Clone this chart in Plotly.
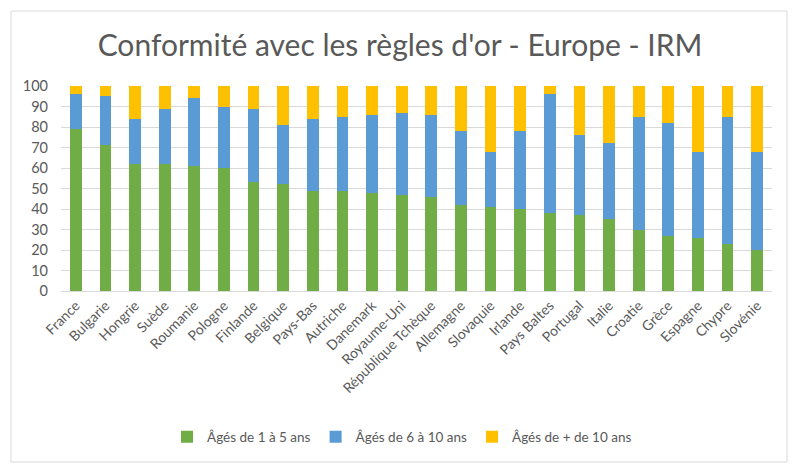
import plotly.graph_objects as go

countries = ["France", "Bulgarie", "Hongrie", "Suède", "Roumanie", "Pologne", "Finlande",
             "Belgique", "Pays-Bas", "Autriche", "Danemark", "Royaume-Uni",
             "République Tchèque", "Allemagne", "Slovaquie", "Irlande", "Pays Baltes",
             "Portugal", "Italie", "Croatie", "Grèce", "Espagne", "Chypre", "Slovénie"]
age_1_5 = [79, 71, 62, 62, 61, 60, 53, 52, 49, 49, 48, 47, 46, 42, 41, 40, 38, 37, 35, 30, 27, 26, 23, 20]
age_6_10 = [17, 24, 22, 27, 33, 30, 36, 29, 35, 36, 38, 40, 40, 36, 27, 38, 58, 39, 37, 55, 55, 42, 62, 48]
age_10_plus = [4, 5, 16, 11, 6, 10, 11, 19, 16, 15, 14, 13, 14, 22, 32, 22, 4, 24, 28, 15, 18, 32, 15, 32]
series_names = ["Âgés de 1 à 5 ans", "Âgés de 6 à 10 ans", "Âgés de + de 10 ans"]
y_ticks = list(range(0, 101, 10))

colors = ["#70AD47", "#5B9BD5", "#FFC000"]
font_family = "Lato, Open Sans, sans-serif"

fig = go.Figure()
for name, vals, col in zip(series_names, [age_1_5, age_6_10, age_10_plus], colors):
    fig.add_trace(go.Bar(x=countries, y=vals, name=name, marker=dict(color=col, line=dict(width=0))))

L, R, T, B = 61, 772, 86, 291
W, H = R - L, B - T

def px_x(p):
    return (p - L) / W

def px_y(p):
    return (B - p) / H

fig.update_layout(
    barmode="stack",
    bargap=0.6,
    width=800, height=472,
    margin=dict(l=L, r=800 - R, t=T, b=472 - B, autoexpand=False),
    paper_bgcolor="white", plot_bgcolor="white",
    font=dict(family=font_family, color="#595959", size=13),
    title=dict(text="Conformité avec les règles d'or - Europe - IRM",
               x=0.5, xanchor="center", y=1 - 45 / 472, yanchor="middle",
               font=dict(size=30, color="#595959", family=font_family)),
    legend=dict(orientation="h", x=px_x(402), xanchor="center", y=px_y(437), yanchor="middle",
                font=dict(size=13.5, color="#595959"), traceorder="normal",
                itemwidth=30, entrywidth=0),
    xaxis=dict(tickangle=-45, showgrid=False, showline=True, linecolor="#d9d9d9",
               ticks="", tickfont=dict(size=14, color="#595959")),
    yaxis=dict(range=[0, 100], tickvals=y_ticks, showgrid=True, gridcolor="#d9d9d9",
               gridwidth=1, zeroline=False, ticks="", tickfont=dict(size=14.5, color="#595959"),
               ticklabelstandoff=12),
    shapes=[dict(type="rect", xref="paper", yref="paper",
                 x0=px_x(11), x1=px_x(787), y0=px_y(462), y1=px_y(11),
                 line=dict(color="#d9d9d9", width=1), layer="below")],
)

fig.write_html("out.html")
